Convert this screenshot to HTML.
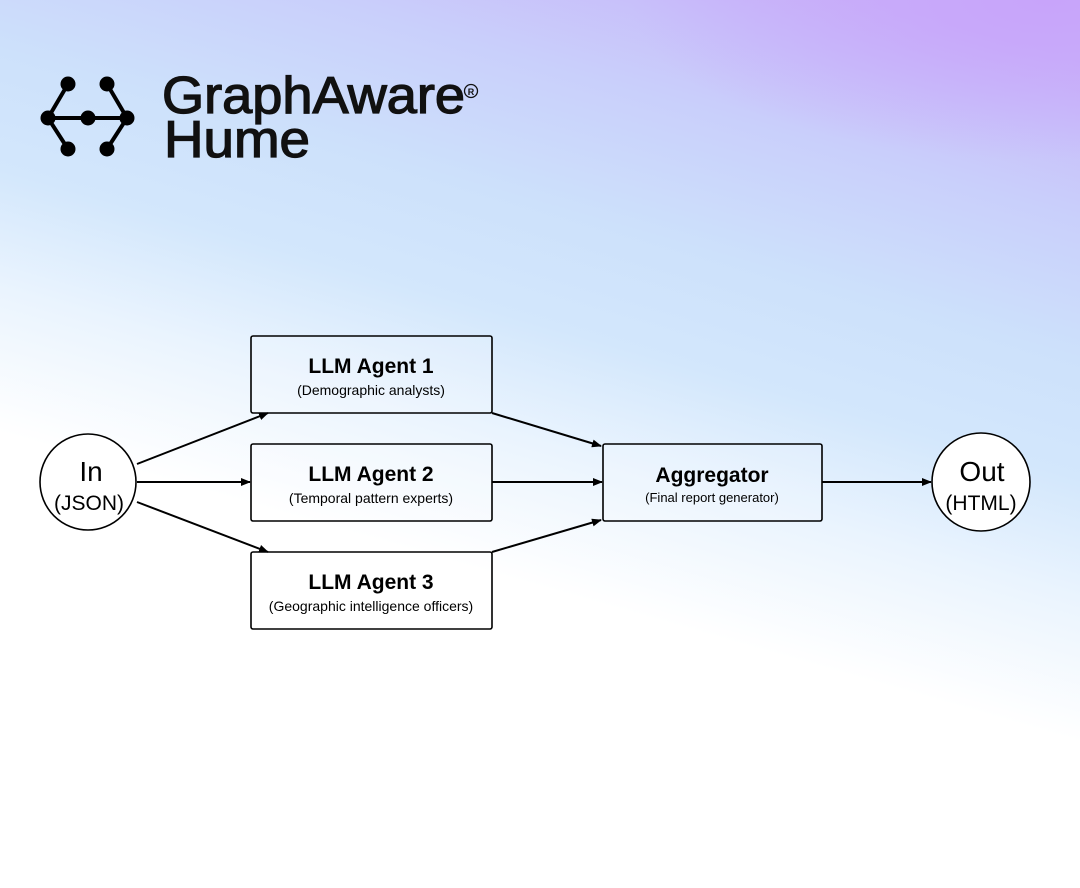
<!DOCTYPE html>
<html><head><meta charset="utf-8"><style>
html,body{margin:0;padding:0}
body{width:1080px;height:888px;overflow:hidden;position:relative;font-family:"Liberation Sans",sans-serif;
background:
radial-gradient(ellipse 420px 160px at 1050px 0px, rgba(200,160,250,0.8), rgba(200,160,250,0) 100%),
linear-gradient(16deg, #ffffff 0%, #ffffff 38%, #eaf4fe 50%, #d3e7fc 60%, #cde1fb 70%, #c9cffb 82%, #c8b4f9 95%);
}
</style></head><body>
<svg width="1080" height="888" style="position:absolute;left:0;top:0">
<defs><marker id="a" markerWidth="10" markerHeight="8" refX="9" refY="4" orient="auto" markerUnits="userSpaceOnUse"><path d="M0,0 L10,4 L0,8 Z" fill="#000"/></marker></defs>
<g stroke="#000" stroke-width="4" fill="none">
<line x1="48" y1="118" x2="68" y2="84"/><line x1="48" y1="118" x2="68" y2="149"/>
<line x1="48" y1="118" x2="127" y2="118"/>
<line x1="127" y1="118" x2="107" y2="84"/><line x1="127" y1="118" x2="107" y2="149"/>
</g>
<g fill="#000">
<circle cx="68" cy="84" r="7.5"/><circle cx="107" cy="84" r="7.5"/><circle cx="48" cy="118" r="7.5"/>
<circle cx="88" cy="118" r="7.5"/><circle cx="127" cy="118" r="7.5"/><circle cx="68" cy="149" r="7.5"/><circle cx="107" cy="149" r="7.5"/>
</g>
<g fill="#111" stroke="#111" stroke-width="1.3" font-size="52">
<text x="162" y="113" textLength="303" lengthAdjust="spacingAndGlyphs">GraphAware</text>
<text x="164" y="157" textLength="146" lengthAdjust="spacingAndGlyphs">Hume</text>
</g>
<circle cx="471" cy="91" r="6.5" fill="none" stroke="#111" stroke-width="1.3"/>
<text x="471" y="95" font-size="9" font-weight="bold" text-anchor="middle" fill="#111">R</text>

<g stroke="#000" stroke-width="2" fill="none" marker-end="url(#a)">
<line x1="137" y1="464" x2="268" y2="413"/>
<line x1="137" y1="482" x2="250" y2="482"/>
<line x1="137" y1="502" x2="268" y2="552"/>
<line x1="492" y1="413" x2="601" y2="446"/>
<line x1="492" y1="482" x2="602" y2="482"/>
<line x1="492" y1="552" x2="601" y2="520"/>
<line x1="822" y1="482" x2="931" y2="482"/>
</g>
<g stroke="#000" stroke-width="1.6" fill="rgba(255,255,255,0.15)">
<rect x="251" y="336" width="241" height="77" rx="2"/>
<rect x="251" y="444" width="241" height="77" rx="2"/>
<rect x="251" y="552" width="241" height="77" rx="2"/>
<rect x="603" y="444" width="219" height="77" rx="2"/>
<circle cx="88" cy="482" r="48" fill="#fff"/>
<circle cx="981" cy="482" r="49" fill="#fff"/>
</g>
<g text-anchor="middle" fill="#000">
<text x="371" y="373" font-size="21" font-weight="bold">LLM Agent 1</text>
<text x="371" y="395" font-size="14">(Demographic analysts)</text>
<text x="371" y="481" font-size="21" font-weight="bold">LLM Agent 2</text>
<text x="371" y="503" font-size="14">(Temporal pattern experts)</text>
<text x="371" y="589" font-size="21" font-weight="bold">LLM Agent 3</text>
<text x="371" y="611" font-size="14">(Geographic intelligence officers)</text>
<text x="712" y="482" font-size="21" font-weight="bold">Aggregator</text>
<text x="712" y="502" font-size="13">(Final report generator)</text>
<text x="91" y="481" font-size="28">In</text>
<text x="89" y="510" font-size="21">(JSON)</text>
<text x="982" y="481" font-size="28">Out</text>
<text x="981" y="510" font-size="21">(HTML)</text>
</g>
</svg>
</body></html>
